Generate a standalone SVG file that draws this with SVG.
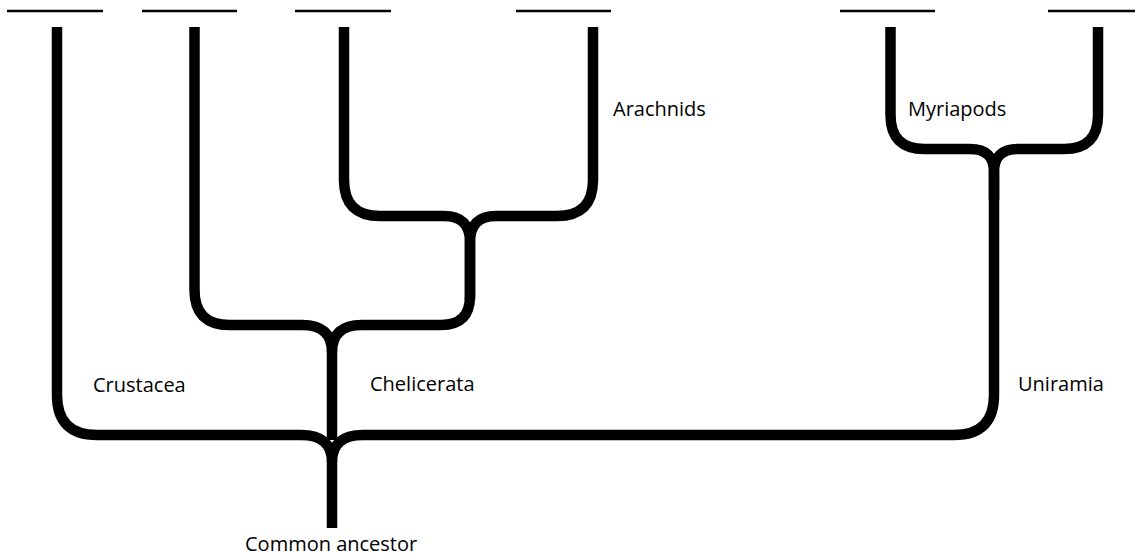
<svg xmlns="http://www.w3.org/2000/svg" width="1135" height="557" viewBox="0 0 1135 557">
<style>
.tick{stroke:#000;stroke-width:2.5;fill:none}
.br{stroke:#000;stroke-width:10.5;fill:none;stroke-linecap:butt;stroke-linejoin:round}
.lbl{font-family:"Open Sans","Noto Sans",sans-serif;font-size:20px;fill:#000}
</style>
<rect width="1135" height="557" fill="#fff"/>
<g id="connectors">
<path class="br" d="M57 27 V395 Q57 435 97 435 H301 Q332 435 332 462"/>
<path class="br" d="M994 172 V395 Q994 435 954 435 H363 Q332 435 332 462 V528"/>
<path class="br" d="M194.5 27 V290 Q194.5 325 229.5 325 H302 Q332 325 332 352"/>
<path class="br" d="M470 242 V296 Q470 325 441 325 H362 Q332 325 332 352 V440"/>
<path class="br" d="M344 27 V180 Q344 216 380 216 H444 Q470 216 470 242"/>
<path class="br" d="M593 27 V180 Q593 216 557 216 H496 Q470 216 470 242 V300"/>
<path class="br" d="M890.5 27 V115 Q890.5 149 924.5 149 H970 Q994 149 994 172"/>
<path class="br" d="M1098 27 V115 Q1098 149 1064 149 H1018 Q994 149 994 172 V200"/>
</g>
<g id="taxa">
<line class="tick" x1="7" y1="11" x2="103" y2="11"/>
<line class="tick" x1="142" y1="11" x2="237" y2="11"/>
<line class="tick" x1="295" y1="11" x2="391" y2="11"/>
<line class="tick" x1="516" y1="11" x2="611" y2="11"/>
<line class="tick" x1="840" y1="11" x2="935" y2="11"/>
<line class="tick" x1="1048" y1="11" x2="1135" y2="11"/>
</g>
<g id="arachnids"><text class="lbl" x="613" y="116">Arachnids</text></g>
<g id="myriapods"><text class="lbl" x="908" y="116">Myriapods</text></g>
<g id="crustacea"><text class="lbl" x="93" y="392">Crustacea</text></g>
<g id="chelicerata"><text class="lbl" x="370" y="391">Chelicerata</text></g>
<g id="uniramia"><text class="lbl" x="1018" y="391">Uniramia</text></g>
<g id="common-ancestor"><text class="lbl" x="245" y="551">Common ancestor</text></g>
</svg>
